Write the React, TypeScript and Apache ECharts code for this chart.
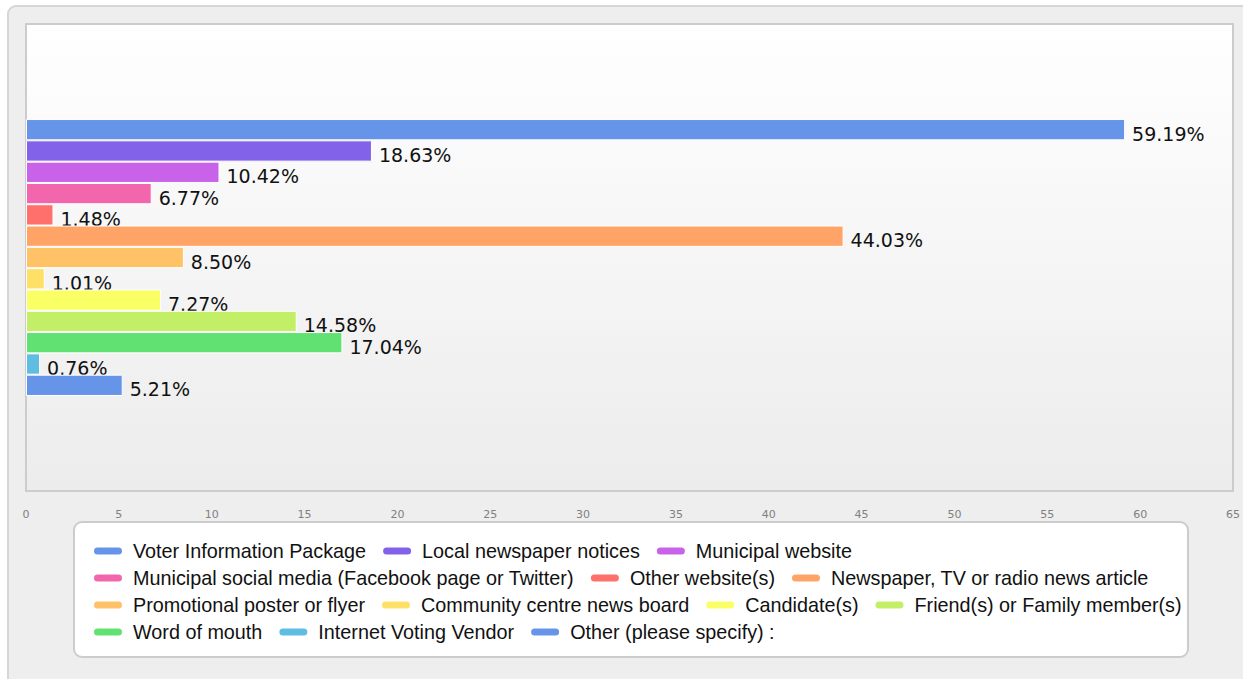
import React, { useEffect, useRef } from "react";
import * as echarts from "echarts";

const categories = [""];
const seriesNames = [
  "Voter Information Package",
  "Local newspaper notices",
  "Municipal website",
  "Municipal social media (Facebook page or Twitter)",
  "Other website(s)",
  "Newspaper, TV or radio news article",
  "Promotional poster or flyer",
  "Community centre news board",
  "Candidate(s)",
  "Friend(s) or Family member(s)",
  "Word of mouth",
  "Internet Voting Vendor",
  "Other (please specify) :",
];
const seriesValues = [59.19, 18.63, 10.42, 6.77, 1.48, 44.03, 8.5, 1.01, 7.27, 14.58, 17.04, 0.76, 5.21];
const seriesColors = [
  "#6694E8", "#8262E8", "#C862E8", "#F266AE", "#FF6F6B", "#FFA466", "#FFC266",
  "#FFE066", "#FAFF66", "#C3EF66", "#62E173", "#5EBDE1", "#6694E8",
];
const xTicks = { min: 0, max: 65, interval: 5 };

export default function App() {
  const ref = useRef<HTMLDivElement>(null);
  useEffect(() => {
    document.body.style.margin = "0";
    const chart = echarts.init(ref.current!, null, { renderer: "svg" });
    const series = seriesNames.map((name, i) => ({
      name,
      type: "bar",
      z: 10 + i,
      data: [seriesValues[i]],
      barGap: "0%",
      barCategoryGap: "40.7%",
      itemStyle: { color: seriesColors[i], borderColor: "#ffffff", borderWidth: 1 },
      label: {
        show: true,
        position: "right",
        distance: 7,
        offset: [0, 4],
        fontFamily: "DejaVu Sans",
        fontSize: 19,
        color: "#111111",
        formatter: (p: any) => p.value.toFixed(2) + "%",
      },
    }));
    chart.setOption({
      animation: false,
      backgroundColor: "#ffffff",
      graphic: [
        {
          type: "rect",
          z: -10,
          silent: true,
          shape: { x: 8, y: 6, width: 1260, height: 700, r: 8 },
          style: { fill: "#eeeeee", stroke: "#d6d6d6", lineWidth: 2 },
        },
        {
          type: "rect",
          z: -5,
          silent: true,
          shape: { x: 74, y: 522, width: 1114, height: 135, r: 8 },
          style: { fill: "#ffffff", stroke: "#cccccc", lineWidth: 2 },
        },
      ],
      grid: {
        left: 26,
        top: 24,
        right: 10,
        bottom: 188,
        show: true,
        borderColor: "#cccccc",
        borderWidth: 2,
        backgroundColor: new echarts.graphic.LinearGradient(0, 0, 0, 1, [
          { offset: 0, color: "#ffffff" },
          { offset: 1, color: "#ececec" },
        ]),
      },
      legend: {
        left: 92,
        top: 541,
        width: 1100,
        padding: 0,
        itemWidth: 30,
        itemHeight: 9,
        itemGap: 7,
        icon: "path://M4.5,0 L25.5,0 A4.5,4.5 0 0 1 25.5,9 L4.5,9 A4.5,4.5 0 0 1 4.5,0 Z",
        textStyle: {
          fontFamily: "Liberation Sans",
          fontSize: 19.8,
          color: "#111111",
          lineHeight: 15,
          padding: [0, 8, 0, 5],
        },
        data: seriesNames,
      },
      xAxis: {
        type: "value",
        min: xTicks.min,
        max: xTicks.max,
        interval: xTicks.interval,
        axisLine: { show: false },
        axisTick: { show: false },
        splitLine: { show: false },
        axisLabel: { fontFamily: "DejaVu Sans", fontSize: 11, color: "#808080", margin: 18 },
      },
      yAxis: {
        type: "category",
        data: categories,
        inverse: true,
        axisLine: { show: false },
        axisTick: { show: false },
        axisLabel: { show: false },
      },
      series,
    });
    return () => chart.dispose();
  }, []);
  return <div ref={ref} style={{ width: 1243, height: 679 }} />;
}
